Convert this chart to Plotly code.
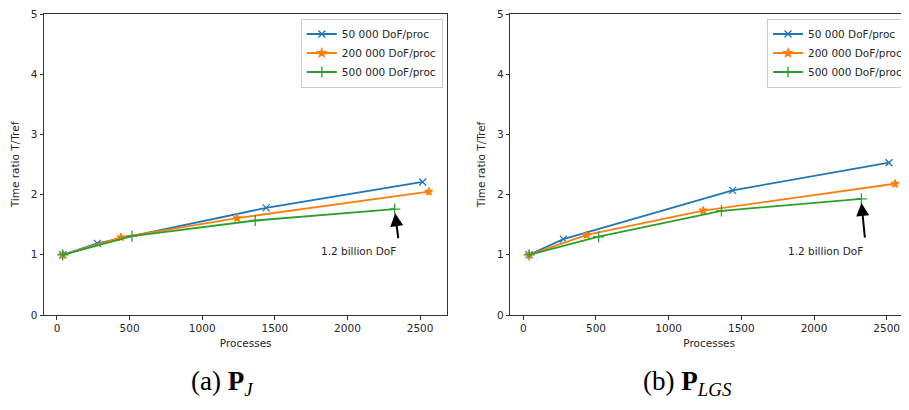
import plotly.graph_objects as go

# ---- data ----
series_names = ["50 000 DoF/proc", "200 000 DoF/proc", "500 000 DoF/proc"]
colors = ["#1f77b4", "#ff7f0e", "#2ca02c"]
symbols = ["x-thin", "star", "cross-thin"]

# (a) P_J
a_blue_x = [40, 278, 1440, 2518]
a_blue_y = [1.00, 1.19, 1.78, 2.21]
a_orange_x = [40, 440, 1240, 2560]
a_orange_y = [1.00, 1.29, 1.61, 2.05]
a_green_x = [40, 516, 1365, 2325]
a_green_y = [1.00, 1.31, 1.57, 1.76]

# (b) P_LGS
b_blue_x = [40, 276, 1440, 2516]
b_blue_y = [1.00, 1.26, 2.07, 2.53]
b_orange_x = [40, 436, 1238, 2557]
b_orange_y = [1.00, 1.33, 1.735, 2.18]
b_green_x = [40, 518, 1363, 2326]
b_green_y = [1.00, 1.30, 1.73, 1.93]

x_ticks = [0, 500, 1000, 1500, 2000, 2500]
y_ticks = [0, 1, 2, 3, 4, 5]
annot_text = "1.2 billion DoF"
captions = ["(a) <b>P</b><sub><i>J</i></sub>", "(b) <b>P</b><sub><i>LGS</i></sub>"]

FONT = "DejaVu Sans"
TXT = "#262626"
FS = 10.5

fig = go.Figure()

panels = [
    ("x", "y", "legend", [(a_blue_x, a_blue_y), (a_orange_x, a_orange_y), (a_green_x, a_green_y)]),
    ("x2", "y2", "legend2", [(b_blue_x, b_blue_y), (b_orange_x, b_orange_y), (b_green_x, b_green_y)]),
]
marker_sizes = [7, 6, 8]
for xa, ya, lg, data in panels:
    for i, (xs, ys) in enumerate(data):
        fig.add_trace(go.Scatter(
            x=xs, y=ys, mode="lines+markers", name=series_names[i],
            xaxis=xa, yaxis=ya, legend=lg,
            line=dict(color=colors[i], width=1.8),
            marker=dict(symbol=symbols[i], size=marker_sizes[i], color=colors[i],
                        line=dict(color=colors[i], width=1.3)),
        ))

axis_common = dict(
    showgrid=False, zeroline=False, showline=True, linecolor="#333333", linewidth=1,
    ticks="outside", ticklen=3.5, tickwidth=1, tickcolor="#333333",
    tickfont=dict(family=FONT, size=FS, color=TXT),
    ticklabeloverflow="allow",
)
title_font = dict(family=FONT, size=FS, color=TXT)

# page body has an 8px margin, so the figure is 8px smaller and shifted accordingly
fig.update_layout(
    width=901, height=402,
    margin=dict(l=36.3, r=0, t=6.3, b=95),
    paper_bgcolor="white", plot_bgcolor="white",
    xaxis=dict(domain=[0, 0.4669], range=[-89.4, 2688], tickvals=x_ticks,
               mirror=True, anchor="y",
               title=dict(text="Processes", font=title_font, standoff=6),
               **axis_common),
    yaxis=dict(domain=[0, 1], range=[0, 5], tickvals=y_ticks, mirror=True, anchor="x",
               title=dict(text="Time ratio T/Tref", font=title_font, standoff=9),
               **axis_common),
    xaxis2=dict(domain=[0.5397, 1], range=[-89.4, 2646.6], tickvals=x_ticks,
                mirror=True, anchor="y2",
                title=dict(text="Processes", font=title_font, standoff=6),
                **axis_common),
    yaxis2=dict(domain=[0, 1], range=[0, 5], tickvals=y_ticks, mirror=False, anchor="x2",
                title=dict(text="Time ratio T/Tref", font=title_font, standoff=9),
                **axis_common),
    legend=dict(x=0.2969, y=0.985, xanchor="left", yanchor="top",
                bgcolor="white", bordercolor="#cccccc", borderwidth=1,
                font=dict(family=FONT, size=FS, color=TXT), tracegroupgap=0),
    legend2=dict(x=0.8366, y=0.985, xanchor="left", yanchor="top",
                 bgcolor="white", bordercolor="#cccccc", borderwidth=1,
                 font=dict(family=FONT, size=FS, color=TXT), tracegroupgap=0),
    showlegend=True,
)

annotations = [
    # panel (a)
    dict(x=2076, y=1.064, xref="x", yref="y", text=annot_text, showarrow=False,
         xanchor="center", yanchor="middle", font=dict(family=FONT, size=FS, color=TXT)),
    dict(x=2328, y=1.69, xref="x", yref="y", ax=2351, ay=1.25, axref="x", ayref="y",
         text="", showarrow=True, arrowhead=2, arrowsize=1.3, arrowwidth=2, arrowcolor="black"),
    # panel (b)
    dict(x=2076, y=1.07, xref="x2", yref="y2", text=annot_text, showarrow=False,
         xanchor="center", yanchor="middle", font=dict(family=FONT, size=FS, color=TXT)),
    dict(x=2326, y=1.86, xref="x2", yref="y2", ax=2351, ay=1.26, axref="x2", ayref="y2",
         text="", showarrow=True, arrowhead=2, arrowsize=1.3, arrowwidth=2, arrowcolor="black"),
    # captions
    dict(x=0.2067, y=-0.2261, xref="paper", yref="paper", text=captions[0], showarrow=False,
         xanchor="center", yanchor="middle",
         font=dict(family="Liberation Serif", size=27, color="black")),
    dict(x=0.7444, y=-0.2261, xref="paper", yref="paper", text=captions[1], showarrow=False,
         xanchor="center", yanchor="middle",
         font=dict(family="Liberation Serif", size=27, color="black")),
]
fig.update_layout(annotations=annotations)

fig.write_html("out.html")
